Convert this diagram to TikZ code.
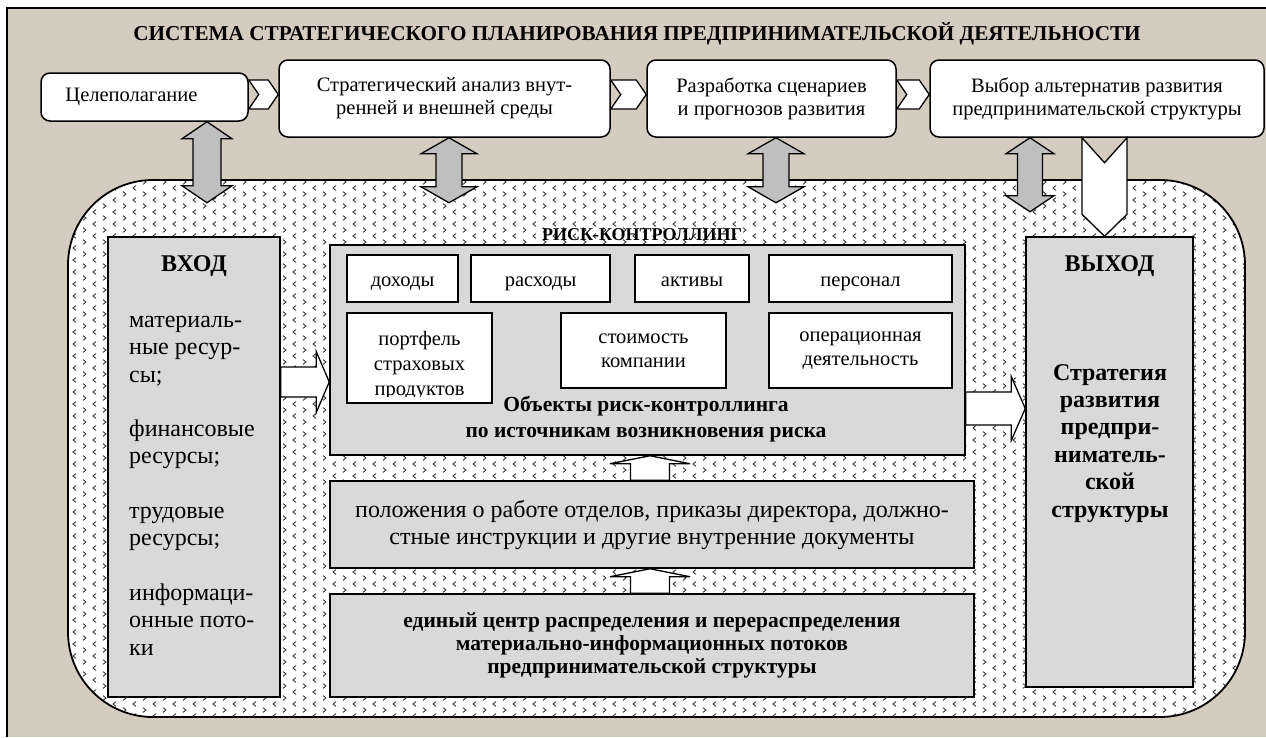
\documentclass[tikz,border=0pt]{standalone}
\usepackage{fontspec}
\setmainfont{Liberation Serif}
\usetikzlibrary{calc,patterns}

\definecolor{beige}{RGB}{212,204,190}
\definecolor{boxgray}{RGB}{217,217,217}
\definecolor{arrgray}{RGB}{191,191,191}

\pgfdeclarepatternformonly{chevdots}{\pgfqpoint{-1pt}{-1pt}}{\pgfqpoint{21pt}{13pt}}{\pgfqpoint{20pt}{12pt}}{%
  \pgfsetlinewidth{0.9pt}%
  \pgfpathmoveto{\pgfqpoint{3pt}{0.6pt}}\pgfpathlineto{\pgfqpoint{6pt}{3pt}}\pgfpathlineto{\pgfqpoint{3pt}{5.4pt}}%
  \pgfpathmoveto{\pgfqpoint{16pt}{6.6pt}}\pgfpathlineto{\pgfqpoint{13pt}{9pt}}\pgfpathlineto{\pgfqpoint{16pt}{11.4pt}}%
  \pgfusepath{stroke}}

\newcommand{\setfs}[2]{\fontsize{#1}{#2}\selectfont}
\newcommand{\chevr}[2]{%
  \path (#1.east |- #2.west) coordinate (chl) (#2.west) coordinate (chr);
  \draw[blk] ($(chl)+(0,-18.5)$) -- ($(chr)+(-10,-18.5)$) -- ($(chr)+(0,-4)$) -- ($(chr)+(-10,10.5)$) -- ($(chl)+(0,10.5)$) -- ($(chl)+(10,-4)$) -- cycle;}
\newcommand{\dblarrow}[5]{%
  \draw[dbl] (#1) -- ($(#1)+(#4,#5)$) -- ($(#1)+(#3,#5)$) -- ($(#2)+(#3,-#5)$) -- ($(#2)+(#4,-#5)$) -- (#2) -- ($(#2)+(-#4,-#5)$) -- ($(#2)+(-#3,-#5)$) -- ($(#1)+(-#3,#5)$) -- ($(#1)+(-#4,#5)$) -- cycle;}
\newcommand{\blkright}[5]{%
  \draw[blk] ($(#1)+(0,-#3)$) -- ($(#2)+(-#5,-#3)$) -- ($(#2)+(-#5,-#4)$) -- (#2) -- ($(#2)+(-#5,#4)$) -- ($(#2)+(-#5,#3)$) -- ($(#1)+(0,#3)$) -- cycle;}
\newcommand{\blkup}[5]{%
  \draw[blk] ($(#1)+(-#3,0)$) -- ($(#2)+(-#3,#5)$) -- ($(#2)+(-#4,#5)$) -- (#2) -- ($(#2)+(#4,#5)$) -- ($(#2)+(#3,#5)$) -- ($(#1)+(#3,0)$) -- cycle;}

\begin{document}
\begin{tikzpicture}[x=1pt, y=-1pt, font=\setfs{20.5}{23},
    topbox/.style={draw, line width=1.5pt, fill=white, rounded corners=9pt, inner sep=0pt, align=center},
    whitebox/.style={draw, line width=1.5pt, fill=white, inner sep=0pt, align=center, font=\setfs{20.5}{24}},
    onebox/.style={whitebox, text height=15pt, text depth=0pt},
    graybox/.style={draw, line width=1.5pt, fill=boxgray, inner sep=0pt},
    region/.style={draw, line width=1.8pt, rounded corners=85pt, preaction={fill=white}, pattern=chevdots, pattern color=black!75, inner sep=0pt},
    blk/.style={draw, line width=1.3pt, fill=white},
    dbl/.style={draw, line width=1.3pt, fill=arrgray},
    lbl/.style={inner sep=0pt, anchor=base, align=center}]
  \useasboundingbox (0,0) rectangle (1266,737);
  \fill[white] (0,0) rectangle (1266,737);
  \fill[beige] (7,8) rectangle (1266,737);
  \draw[line width=1.5pt] (7,737) -- (7,8) -- (1266,8);

  \node[lbl, font=\bfseries\setfs{21.2}{24}] (title) at (637,40) {СИСТЕМА СТРАТЕГИЧЕСКОГО ПЛАНИРОВАНИЯ ПРЕДПРИНИМАТЕЛЬСКОЙ ДЕЯТЕЛЬНОСТИ};

  \node[region, minimum width=1177pt, minimum height=537pt] (ctl) at (656.5,448.5) {};

  \node[topbox, minimum width=207pt, minimum height=48pt] (b1) at (144.5,97) {Целеполагание\hspace*{26pt}};
  \node[topbox, minimum width=331pt, minimum height=77pt] (b2) at (444.5,98.5) {Стратегический анализ внут-\\ренней и внешней среды};
  \node[topbox, minimum width=249pt, minimum height=77pt] (b3) at (771.5,98.5) {Разработка сценариев\\и прогнозов развития};
  \node[topbox, minimum width=334pt, minimum height=77pt] (b4) at (1097,98.5) {Выбор альтернатив развития\\предпринимательской структуры};
  \chevr{b1}{b2}
  \chevr{b2}{b3}
  \chevr{b3}{b4}

  \coordinate (d1t) at ($(b1.south)+(62.5,0)$);
  \coordinate (d1b) at ($(d1t)+(0,81)$);
  \coordinate (d2t) at ($(b2.south)+(4.5,0)$);
  \coordinate (d2b) at ($(d2t)+(0,65)$);
  \coordinate (d3t) at ($(b3.south)+(4.5,0)$);
  \coordinate (d3b) at ($(d3t)+(0,65)$);
  \coordinate (d4t) at ($(b4.south)+(-67,0)$);
  \coordinate (d4b) at ($(d4t)+(0,74)$);
  \dblarrow{d1t}{d1b}{14}{25}{17}
  \dblarrow{d2t}{d2b}{13}{28}{16}
  \dblarrow{d3t}{d3b}{13}{28}{16}
  \dblarrow{d4t}{d4b}{12.5}{24}{16}

  \node[graybox, minimum width=172pt, minimum height=460pt] (vhod) at (194,467) {};
  \node[lbl, font=\bfseries\setfs{24}{27}] (vhodt) at (194,271) {ВХОД};
  \node[lbl, anchor=base west, align=left, font=\setfs{24}{27.3}] (vhodl) at (129,655) {материаль-\\ные ресур-\\сы;\\[27.3pt]финансовые\\ресурсы;\\[27.3pt]трудовые\\ресурсы;\\[27.3pt]информаци-\\онные пото-\\ки};

  \node[graybox, minimum width=167pt, minimum height=450pt] (vyhod) at (1109.5,462) {};
  \node[lbl, font=\bfseries\setfs{24}{27}] (vyhodt) at (1109.5,271) {ВЫХОД};
  \node[lbl, font=\bfseries\setfs{24}{27.4}] (strat) at (1110,517) {Стратегия\\развития\\предпри-\\ниматель-\\ской\\структуры};

  \coordinate (w1) at ($(b4.south)+(7.5,0)$);
  \coordinate (w2) at (w1 |- vyhod.north);
  \draw[blk] ($(w1)+(-22.5,0)$) -- ($(w1)+(0,25)$) -- ($(w1)+(22.5,0)$) -- ($(w2)+(22.5,-22)$) -- (w2) -- ($(w2)+(-22.5,-22)$) -- cycle;

  \node[lbl, font=\bfseries\setfs{18}{20}] (rk) at (642,240) {РИСК-КОНТРОЛЛИНГ};
  \node[graybox, minimum width=635pt, minimum height=210pt] (obj) at (647.5,350) {};
  \node[onebox, minimum width=111pt, minimum height=47pt] (dohod) at (402.5,278.5) {доходы};
  \node[onebox, minimum width=139pt, minimum height=47pt] (rashod) at (540.5,278.5) {расходы};
  \node[onebox, minimum width=114pt, minimum height=47pt] (aktiv) at (692,278.5) {активы};
  \node[onebox, minimum width=183pt, minimum height=47pt] (pers) at (860.5,278.5) {персонал};
  \node[whitebox, minimum width=145pt, minimum height=90pt] (portf) at (419.5,358) {};
  \begin{scope}
    \clip ($(portf.south west)+(0,-7)$) rectangle (portf.north east);
    \node[lbl, font=\setfs{20.5}{25}] (portft) at (419.5,395) {портфель\\страховых\\продуктов};
  \end{scope}
  \node[whitebox, minimum width=165pt, minimum height=75pt] (stoim) at (643.5,350.5) {стоимость\\компании};
  \node[whitebox, minimum width=183pt, minimum height=75pt] (oper) at (860.5,350.5) {операционная\\деятельность};
  \node[lbl, font=\bfseries\setfs{21.5}{26}] (objt) at (646,437) {Объекты риск-контроллинга\\по источникам возникновения риска};

  \node[graybox, minimum width=644pt, minimum height=87pt, align=center, font=\setfs{24}{27}] (doc) at (652,524.5) {положения о работе отделов, приказы директора, должно-\\стные инструкции и другие внутренние документы};
  \node[graybox, minimum width=644pt, minimum height=103pt, align=center, font=\bfseries\setfs{21.5}{23}] (cen) at (652,645.5) {единый центр распределения и перераспределения\\материально-информационных потоков\\предпринимательской структуры};

  \coordinate (u1) at ($(doc.north)+(-2,0)$);
  \coordinate (u2) at (u1 |- obj.south);
  \coordinate (u3) at (u1 |- cen.north);
  \coordinate (u4) at (u1 |- doc.south);
  \blkup{u1}{u2}{19.5}{40}{8}
  \blkup{u3}{u4}{19.5}{40}{8}

  \coordinate (i1) at ($(vhod.east)+(0,-85)$);
  \coordinate (i2) at (obj.west |- i1);
  \blkright{i1}{i2}{15}{30.5}{13}
  \coordinate (o1) at ($(obj.east)+(0,58.5)$);
  \coordinate (o2) at (vyhod.west |- o1);
  \blkright{o1}{o2}{16.5}{32}{14}
\end{tikzpicture}
\end{document}
